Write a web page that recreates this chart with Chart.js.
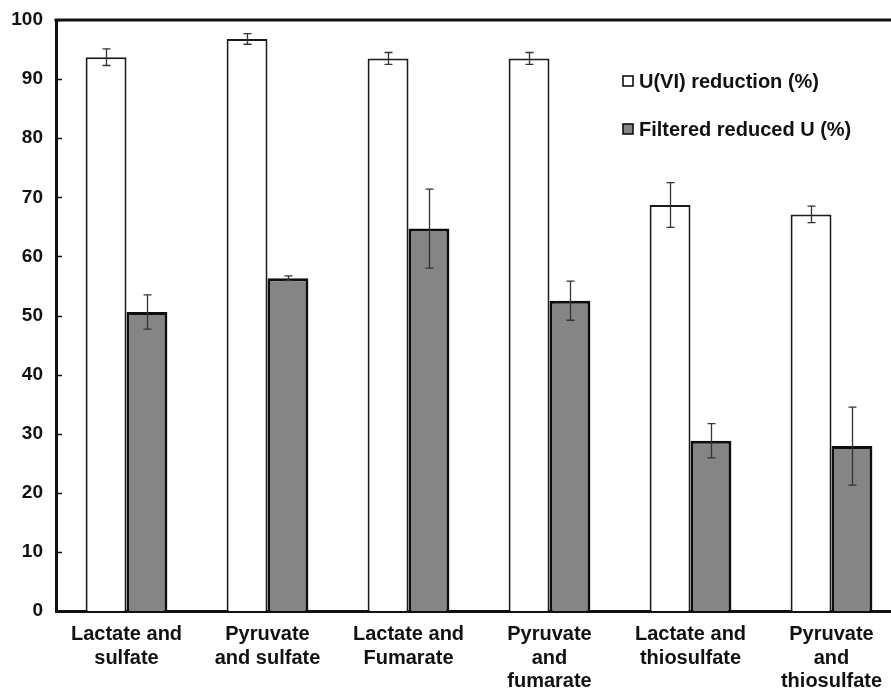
<!DOCTYPE html>
<html>
<head>
<meta charset="utf-8">
<script src="https://cdn.jsdelivr.net/npm/chart.js@4.4.1/dist/chart.umd.min.js"></script>
<style>
  html, body { margin: 0; padding: 0; background: #fff; overflow: hidden; }
  #wrap { width: 910px; height: 689px; position: relative; }
</style>
</head>
<body>
<div id="wrap"><canvas id="c"></canvas></div>
<script>
// Electron donor / acceptor combinations
const categories = [
  ['Lactate and', 'sulfate'],
  ['Pyruvate', 'and sulfate'],
  ['Lactate and', 'Fumarate'],
  ['Pyruvate', 'and', 'fumarate'],
  ['Lactate and', 'thiosulfate'],
  ['Pyruvate', 'and', 'thiosulfate']
];

// U(VI) reduction (%) and its standard deviation
const reduction = [93.7, 96.8, 93.5, 93.5, 68.7, 67.1];
const reductionErr = [1.4, 0.9, 1.0, 1.0, 3.8, 1.4];

// Filtered reduced U (%) and its standard deviation
const filtered = [50.6, 56.3, 64.7, 52.5, 28.8, 27.9];
const filteredErr = [2.9, 0.4, 6.7, 3.3, 2.9, 6.6];

const yTicks = [0, 10, 20, 30, 40, 50, 60, 70, 80, 90, 100];

const errors = [reductionErr, filteredErr];

// Axis frame: inward tick marks and the top border line
const framePlugin = {
  id: 'frame',
  afterDraw(chart) {
    const { ctx, chartArea, scales } = chart;
    const y = scales.y;
    ctx.save();
    ctx.strokeStyle = '#111';
    ctx.lineWidth = 3;
    ctx.beginPath();
    ctx.moveTo(chartArea.left - 1.5, chartArea.top);
    ctx.lineTo(chartArea.right + 20, chartArea.top);
    ctx.stroke();
    ctx.lineWidth = 1.5;
    ctx.beginPath();
    yTicks.forEach(v => {
      const py = Math.round(y.getPixelForValue(v)) + 0.5;
      ctx.moveTo(chartArea.left, py);
      ctx.lineTo(chartArea.left + 6, py);
    });
    ctx.stroke();
    ctx.restore();
  }
};

// Standard deviation whiskers on every bar
const errorBarPlugin = {
  id: 'errorBars',
  afterDatasetsDraw(chart) {
    const { ctx, scales } = chart;
    const y = scales.y;
    ctx.save();
    ctx.strokeStyle = '#333';
    ctx.lineWidth = 1.3;
    chart.data.datasets.forEach((ds, di) => {
      const meta = chart.getDatasetMeta(di);
      meta.data.forEach((bar, i) => {
        const v = ds.data[i];
        const e = errors[di][i];
        const x = Math.round(bar.x) + 0.5;
        const top = y.getPixelForValue(v + e);
        const bot = y.getPixelForValue(v - e);
        ctx.beginPath();
        ctx.moveTo(x, top); ctx.lineTo(x, bot);
        ctx.moveTo(x - 4, top); ctx.lineTo(x + 4, top);
        ctx.moveTo(x - 4, bot); ctx.lineTo(x + 4, bot);
        ctx.stroke();
      });
    });
    ctx.restore();
  }
};

// Legend drawn inside the plot, upper right
const legendPlugin = {
  id: 'insideLegend',
  afterDraw(chart) {
    const { ctx } = chart;
    ctx.save();
    ctx.font = 'bold 20px "Liberation Sans", Arial, sans-serif';
    ctx.textBaseline = 'middle';
    const rows = [81, 129];
    chart.data.datasets.forEach((ds, i) => {
      const cy = rows[i];
      ctx.fillStyle = ds.backgroundColor;
      ctx.fillRect(623, cy - 5, 10, 10);
      ctx.strokeStyle = '#111';
      ctx.lineWidth = 1.6;
      ctx.strokeRect(623, cy - 5, 10, 10);
      ctx.fillStyle = '#111';
      ctx.fillText(ds.label, 639, cy + 1);
    });
    ctx.restore();
  }
};

new Chart(document.getElementById('c'), {
  type: 'bar',
  data: {
    labels: categories,
    datasets: [
      {
        label: 'U(VI) reduction (%)',
        data: reduction,
        backgroundColor: '#ffffff',
        borderColor: '#1a1a1a',
        borderWidth: 2
      },
      {
        label: 'Filtered reduced U (%)',
        data: filtered,
        backgroundColor: '#858585',
        borderColor: '#0d0d0d',
        borderWidth: 3
      }
    ]
  },
  options: {
    responsive: true,
    maintainAspectRatio: false,
    animation: false,
    layout: { padding: { top: 20, right: 8, left: 0, bottom: 0 } },
    datasets: { bar: { categoryPercentage: 0.58, barPercentage: 1.0 } },
    plugins: {
      legend: { display: false },
      tooltip: { enabled: false }
    },
    scales: {
      x: {
        grid: { display: false, drawTicks: false },
        border: { display: true, color: '#111', width: 3 },
        ticks: {
          color: '#111',
          padding: 12,
          maxRotation: 0,
          autoSkip: false,
          font: { family: '"Liberation Sans", Arial, sans-serif', size: 20, weight: 'bold', lineHeight: 1.17 }
        },
        afterFit(scale) {
          scale.height = 78;
          scale.paddingLeft = 0;
          scale.paddingRight = 0;
        }
      },
      y: {
        min: 0,
        max: 100,
        grid: { display: false, drawTicks: false },
        border: { display: true, color: '#111', width: 3 },
        ticks: {
          stepSize: 10,
          color: '#111',
          padding: 13,
          font: { family: '"Liberation Sans", Arial, sans-serif', size: 19, weight: 'bold' }
        },
        afterFit(scale) {
          scale.width = 56;
          scale.paddingTop = 0;
          scale.paddingBottom = 0;
        }
      }
    }
  },
  plugins: [framePlugin, errorBarPlugin, legendPlugin]
});
</script>
</body>
</html>
